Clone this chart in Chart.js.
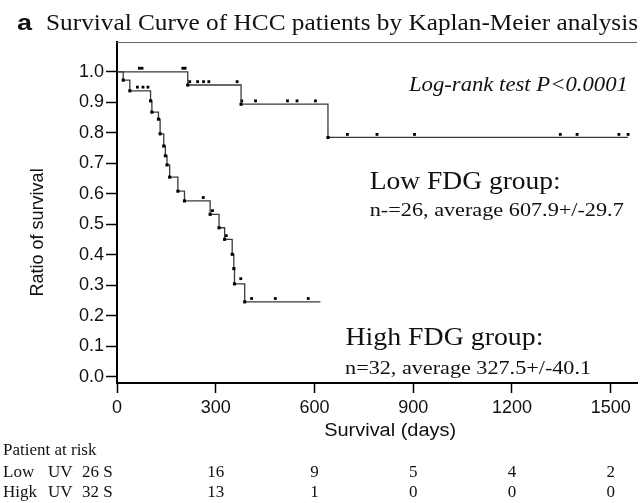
<!DOCTYPE html>
<html>
<head>
<meta charset="utf-8">
<script src="https://cdn.jsdelivr.net/npm/chart.js@4/dist/chart.umd.min.js"></script>
<style>
  body { margin: 0; background: #fff; overflow: hidden; }
  #wrap { width: 641px; height: 503px; }
</style>
</head>
<body>
<div id="wrap"><canvas id="kmChart" width="641" height="503"></canvas></div>
<script>
// Kaplan-Meier steps (day of event, survival after it)
const lowDays = [0, 215, 377, 641, 1553];
const lowSurv = [1.0, 0.957, 0.894, 0.785, 0.785];
const highDays = [0, 19, 39, 102, 106, 126, 131, 142, 147, 152, 160, 185, 205, 283, 310, 327, 350, 355, 357, 388, 618];
const highSurv = [1.0, 0.973, 0.938, 0.905, 0.868, 0.845, 0.797, 0.757, 0.725, 0.695, 0.655, 0.609, 0.577, 0.533, 0.489, 0.451, 0.402, 0.355, 0.305, 0.246, 0.246];

// censored cases
const lowCensorDays = [68, 76, 200, 207, 221, 245, 263, 279, 365, 379, 421, 518, 547, 603, 700, 790, 904, 1347, 1398, 1525, 1553];
const lowCensorSurv = [1.012, 1.012, 1.012, 1.012, 0.968, 0.968, 0.968, 0.968, 0.968, 0.905, 0.905, 0.905, 0.905, 0.905, 0.795, 0.795, 0.795, 0.795, 0.795, 0.795, 0.795];
const highCensorDays = [62, 79, 94, 262, 290, 332, 376, 409, 481, 581];
const highCensorSurv = [0.95, 0.95, 0.95, 0.588, 0.545, 0.463, 0.322, 0.257, 0.257, 0.257];

// patients at risk table (also the x tick positions)
const riskDays = [0, 300, 600, 900, 1200, 1500];
const lowAtRisk = [26, 16, 9, 5, 4, 2];
const highAtRisk = [32, 13, 1, 0, 0, 0];

const serif = '"Liberation Serif", "Times New Roman", serif';
const sans = '"Liberation Sans", Arial, sans-serif';

function toPoints(xs, ys) {
  return xs.map(function (x, i) { return { x: x, y: ys[i] }; });
}

// markers on the step corners only
function cornerRadius(ctx) {
  let n = ctx.dataset.data.length;
  return (ctx.dataIndex === 0 || ctx.dataIndex === n - 1) ? 0 : 2.2;
}

// the printed figure is a bit wider than tall, so text gets stretched to width
function drawText(ctx, text, x, y, font, width, align) {
  ctx.font = font;
  let sx = width ? width / ctx.measureText(text).width : 1;
  ctx.save();
  ctx.translate(x, y);
  ctx.scale(sx, 1);
  ctx.textAlign = align || 'left';
  ctx.fillText(text, 0, 0);
  ctx.restore();
}

const notes = [
  { text: 'Log-rank test P<0.0001', day: 887, surv: 0.938, font: 'italic 20px ' + serif, width: 219 },
  { text: 'Low FDG group:', day: 768, surv: 0.615, font: '25px ' + serif, width: 191 },
  { text: 'n-=26, average 607.9+/-29.7', day: 768, surv: 0.527, font: '19px ' + serif, width: 254 },
  { text: 'High FDG group:', day: 694, surv: 0.103, font: '25px ' + serif, width: 198 },
  { text: 'n=32, average 327.5+/-40.1', day: 693, surv: 0.011, font: '19px ' + serif, width: 246 }
];

const textPlugin = {
  id: 'kmText',
  afterDraw: function (chart) {
    const ctx = chart.ctx;
    const x = chart.scales.x;
    const y = chart.scales.y;
    const area = chart.chartArea;
    ctx.save();
    ctx.fillStyle = '#111';
    ctx.textBaseline = 'alphabetic';

    // top frame line
    ctx.strokeStyle = '#666';
    ctx.lineWidth = 1;
    ctx.beginPath();
    ctx.moveTo(area.left, area.top + 0.5);
    ctx.lineTo(area.right, area.top + 0.5);
    ctx.stroke();

    // title
    drawText(ctx, 'a', 17, 30, 'bold 22px ' + sans, 15);
    drawText(ctx, 'Survival Curve of HCC patients by Kaplan-Meier analysis', 46, 30, '23px ' + serif, 592);

    // axis titles
    drawText(ctx, 'Survival (days)', x.getPixelForValue(830), 436, '18px ' + sans, 132, 'center');
    ctx.save();
    ctx.translate(43, y.getPixelForValue(0.5) + 8);
    ctx.rotate(-Math.PI / 2);
    ctx.textAlign = 'center';
    ctx.font = '18px ' + sans;
    ctx.fillText('Ratio of survival', 0, 0);
    ctx.restore();

    // annotations
    notes.forEach(function (n) {
      drawText(ctx, n.text, x.getPixelForValue(n.day), y.getPixelForValue(n.surv), n.font, n.width);
    });

    // patients at risk
    ctx.font = '17px ' + serif;
    ctx.textAlign = 'left';
    ctx.fillText('Patient at risk', 3, 455);
    const rows = [
      { name: 'Low', counts: lowAtRisk, base: 477 },
      { name: 'Higk', counts: highAtRisk, base: 497 }
    ];
    rows.forEach(function (r) {
      ctx.textAlign = 'left';
      ctx.fillText(r.name, 3, r.base);
      ctx.fillText('UV', 48, r.base);
      ctx.fillText(r.counts[0] + ' S', 82, r.base);
      ctx.textAlign = 'center';
      for (let i = 1; i < riskDays.length; i++) {
        ctx.fillText(String(r.counts[i]), x.getPixelForValue(riskDays[i]), r.base);
      }
    });
    ctx.restore();
  }
};

Chart.defaults.font.family = sans;
Chart.defaults.color = '#111';

let kmCanvas = document.getElementById('kmChart');
let kmChart = new Chart(kmCanvas, {
  type: 'line',
  data: {
    datasets: [{
      label: 'Low FDG group',
      data: toPoints(lowDays, lowSurv),
      stepped: 'before',
      borderColor: '#3a3a3a',
      borderWidth: 1.3,
      pointStyle: 'rect',
      pointRadius: cornerRadius,
      pointBackgroundColor: '#000',
      pointBorderWidth: 0
    },
    {
      label: 'High FDG group',
      data: toPoints(highDays, highSurv),
      stepped: 'before',
      borderColor: '#3a3a3a',
      borderWidth: 1.3,
      pointStyle: 'rect',
      pointRadius: cornerRadius,
      pointBackgroundColor: '#000',
      pointBorderWidth: 0
    },
    {
      label: 'Low censored',
      data: toPoints(lowCensorDays, lowCensorSurv),
      showLine: false,
      pointStyle: 'rect',
      pointRadius: 2,
      pointBackgroundColor: '#000',
      pointBorderWidth: 0
    },
    {
      label: 'High censored',
      data: toPoints(highCensorDays, highCensorSurv),
      showLine: false,
      pointStyle: 'rect',
      pointRadius: 2,
      pointBackgroundColor: '#000',
      pointBorderWidth: 0
    }
    ]
  },
  options: {
    responsive: false,
    animation: false,
    devicePixelRatio: 1,
    layout: {
      padding: { top: 42, bottom: 62, left: 0, right: 0 }
    },
    plugins: {
      legend: { display: false },
      tooltip: { enabled: false }
    },
    scales: {
      x: {
        type: 'linear',
        min: 0,
        max: 1580,
        afterBuildTicks: function (scale) {
          scale.ticks = riskDays.map(function (d) { return { value: d }; });
        },
        afterFit: function (scale) { scale.height = 58; },
        border: { display: true, color: '#000', width: 2 },
        grid: { drawOnChartArea: false, tickLength: 10, tickColor: '#000', tickWidth: 1.5 },
        ticks: {
          maxRotation: 0,
          autoSkip: false,
          padding: 4,
          font: { size: 18 },
          callback: function (v) { return String(v); }
        }
      },
      y: {
        min: -0.02,
        max: 1.098,
        afterFit: function (scale) { scale.width = 117; },
        border: { display: true, color: '#000', width: 2 },
        grid: { drawOnChartArea: false, tickLength: 11, tickColor: '#000', tickWidth: 1.5 },
        ticks: {
          stepSize: 0.1,
          includeBounds: false,
          padding: 2,
          font: { size: 18 },
          callback: function (v) { return v.toFixed(1); }
        }
      }
    }
  },
  plugins: [textPlugin]
});
</script>
</body>
</html>
